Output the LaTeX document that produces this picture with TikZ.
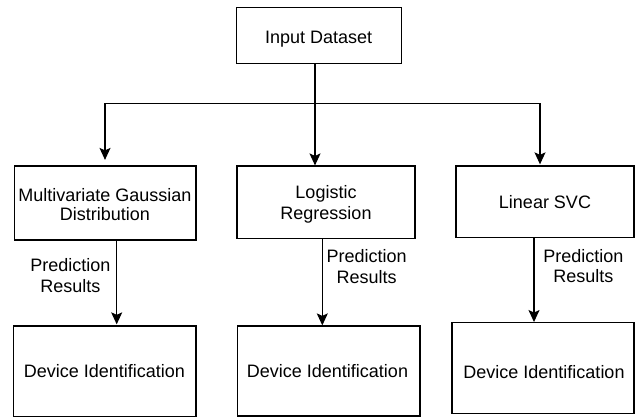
\documentclass[tikz,border=0pt]{standalone}
\usepackage{fontspec}
\setmainfont{Liberation Sans}
\usetikzlibrary{arrows.meta}
\begin{document}
\begin{tikzpicture}[x=1pt,y=-1pt,
  box/.style={draw=black, line width=1.2pt, rectangle, inner sep=0pt},
  txt/.style={inner sep=0pt, align=center, anchor=base, font=\fontsize{18}{20.5}\selectfont},
  arr/.style={draw=black, line width=1.2pt, -{Stealth[length=12pt,width=11pt,inset=2.5pt]}},
  conn/.style={draw=black, line width=1.2pt}]
\useasboundingbox (0,0) rectangle (636,419);
% boxes
\node[box, minimum width=165pt, minimum height=56pt] (in) at (319.2,35.3) {};
\node[box, minimum width=181.3pt, minimum height=74pt] (m1) at (105.3,203) {};
\node[box, minimum width=178pt, minimum height=72.3pt] (m2) at (326,202.2) {};
\node[box, minimum width=178pt, minimum height=71.7pt] (m3) at (545,201.8) {};
\node[box, minimum width=182.7pt, minimum height=90.7pt] (d1) at (104.7,371.3) {};
\node[box, minimum width=182.7pt, minimum height=90pt] (d2) at (328.7,371) {};
\node[box, minimum width=182pt, minimum height=90.7pt] (d3) at (543,368) {};
% box texts
\node[txt] (tin) at (318.6,43.3) {Input Dataset};
\node[txt, font=\fontsize{18}{19.2}\selectfont] (tm1) at (105,220.9) {Multivariate Gaussian\\Distribution};
\node[txt, font=\fontsize{18}{21}\selectfont] (tm2) at (326,219.3) {Logistic\\Regression};
\node[txt] (tm3) at (545,208.3) {Linear SVC};
\node[txt] (td1) at (104.3,377.7) {Device Identification};
\node[txt] (td2) at (327.5,377.7) {Device Identification};
\node[txt] (td3) at (544,378.3) {Device Identification};
% routing coordinates
\coordinate (jc) at (315,103.3);
\coordinate (jl) at (105,103.3);
\coordinate (jr) at (540,103.3);
\coordinate (a1) at (116.7,0);
\coordinate (a2) at (322.3,0);
\coordinate (a3) at (534,0);
% top connectors
\draw[conn] (in.south -| jc) -- (jc);
\draw[conn] (jl) -- (jr);
\draw[arr, shorten >=5.5pt] (jl) -- (m1.north -| jl);
\draw[arr] (jc) -- (m2.north -| jc);
\draw[arr, shorten >=1pt] (jr) -- (m3.north -| jr);
% bottom connectors
\draw[arr, shorten >=1pt] (m1.south -| a1) -- (d1.north -| a1);
\draw[arr] (m2.south -| a2) -- (d2.north -| a2);
\draw[arr] (m3.south -| a3) -- (d3.north -| a3);
% labels
\node[txt] (l1) at (70.3,292) {Prediction\\Results};
\node[txt] (l2) at (366.7,283.3) {Prediction\\Results};
\node[txt] (l3) at (583.3,282.7) {Prediction\\Results};
\end{tikzpicture}
\end{document}
